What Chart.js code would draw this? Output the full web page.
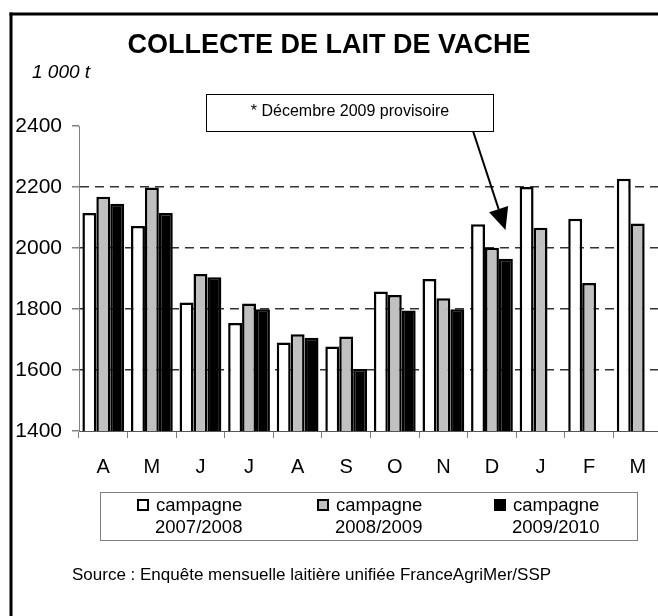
<!DOCTYPE html>
<html>
<head>
<meta charset="utf-8">
<script src="https://cdn.jsdelivr.net/npm/chart.js@4"></script>
<style>
    body { margin: 0; background: #fff; }
    .wrap { width: 658px; height: 616px; overflow: hidden; position: relative; background: #fff; }
    canvas { position: absolute; left: 0; top: 0; }
</style>
</head>
<body>
<div class="wrap">
    <canvas id="lait" width="672" height="616" style="width:672px;height:616px"></canvas>
</div>
<script>
const months = ['A', 'M', 'J', 'J', 'A', 'S', 'O', 'N', 'D', 'J', 'F', 'M'];
const campagne0708 = [2115, 2072, 1821, 1754, 1690, 1677, 1857, 1898, 2078, 2200, 2096, 2227];
const campagne0809 = [2168, 2198, 1915, 1818, 1717, 1710, 1846, 1835, 2001, 2066, 1885, 2080];
const campagne0910 = [2145, 2115, 1904, 1799, 1706, 1603, 1795, 1799, 1965, null, null, null];
const seriesNames = ['campagne 2007/2008', 'campagne 2008/2009', 'campagne 2009/2010'];
const seriesColors = ['#ffffff', '#c0c0c0', '#000000'];
const yTicks = [1400, 1600, 1800, 2000, 2200, 2400];

const FONT = "'Liberation Sans', Arial, sans-serif";

// texte, légende, cadre et flèche dessinés à la main
const decorPlugin = {
    id: 'decor',
    afterDraw(chart) {
        const ctx = chart.ctx;
        ctx.save();

        ctx.fillStyle = '#000';
        ctx.textBaseline = 'middle';
        ctx.textAlign = 'center';
        ctx.font = 'bold 27px ' + FONT;
        ctx.fillText('COLLECTE DE LAIT DE VACHE', 329, 46);

        ctx.textAlign = 'left';
        ctx.font = 'italic 19px ' + FONT;
        ctx.fillText('1 000 t', 32, 73);

        // encadré annotation
        ctx.fillStyle = '#fff';
        ctx.fillRect(206.5, 94.5, 287, 37);
        ctx.strokeStyle = '#000';
        ctx.lineWidth = 1;
        ctx.strokeRect(206.5, 94.5, 287, 37);
        ctx.fillStyle = '#000';
        ctx.textAlign = 'center';
        ctx.font = '16px ' + FONT;
        ctx.fillText('* Décembre 2009 provisoire', 350, 112);

        // flèche
        const x0 = 473, y0 = 131, x1 = 505.5, y1 = 230;
        const ang = Math.atan2(y1 - y0, x1 - x0);
        const headLen = 22, headW = 10;
        const bx = x1 - headLen * Math.cos(ang), by = y1 - headLen * Math.sin(ang);
        ctx.lineWidth = 2;
        ctx.beginPath();
        ctx.moveTo(x0, y0);
        ctx.lineTo(bx, by);
        ctx.stroke();
        ctx.beginPath();
        ctx.moveTo(x1, y1);
        ctx.lineTo(bx + headW * Math.sin(ang), by - headW * Math.cos(ang));
        ctx.lineTo(bx - headW * Math.sin(ang), by + headW * Math.cos(ang));
        ctx.closePath();
        ctx.fill();

        // légende
        ctx.strokeStyle = '#808080';
        ctx.lineWidth = 1;
        ctx.strokeRect(100.5, 492.5, 537, 48);
        const legendX = [137, 317, 494];
        ctx.font = '18.5px ' + FONT;
        ctx.textAlign = 'left';
        chart.data.datasets.forEach((ds, i) => {
            const mx = legendX[i];
            ctx.fillStyle = ds.backgroundColor;
            ctx.fillRect(mx, 499, 12, 12);
            ctx.strokeStyle = '#000';
            ctx.lineWidth = 2;
            ctx.strokeRect(mx + 1, 500, 10, 10);
            const parts = ds.label.split(' ');
            ctx.fillStyle = '#000';
            ctx.fillText(parts[0], mx + 19, 506);
            ctx.fillText(parts[1], mx + 18, 528);
        });

        ctx.font = '17px ' + FONT;
        ctx.fillText('Source : Enquête mensuelle laitière unifiée FranceAgriMer/SSP', 72, 575);

        // cadre
        ctx.fillStyle = '#000';
        ctx.fillRect(9.5, 12.5, 3, 616);
        ctx.fillRect(9.5, 12.5, 660, 3);

        ctx.restore();
    }
};

const ctx = document.getElementById('lait');
const myChart = new Chart(ctx, {
    type: 'bar',
    data: {
        labels: months,
        datasets: [campagne0708, campagne0809, campagne0910].map((values, i) => ({
            label: seriesNames[i],
            data: values,
            backgroundColor: seriesColors[i],
            borderColor: '#000',
            borderWidth: 2.5,
            borderSkipped: 'bottom',
            categoryPercentage: 0.86,
            barPercentage: 1
        }))
    },
    options: {
        responsive: false,
        animation: false,
        layout: { padding: { left: 0, right: 10, top: 126, bottom: 135 } },
        plugins: {
            legend: { display: false },
            title: { display: false },
            tooltip: { enabled: false }
        },
        scales: {
            x: {
                offset: true,
                afterFit: (scale) => { scale.height = 50; },
                grid: {
                    offset: true,
                    drawOnChartArea: false,
                    tickLength: 7,
                    color: '#808080'
                },
                border: { color: '#555', width: 1 },
                ticks: {
                    color: '#000',
                    padding: 17,
                    font: { family: FONT, size: 20 }
                }
            },
            y: {
                min: yTicks[0],
                max: yTicks[yTicks.length - 1],
                afterFit: (scale) => { scale.width = 79; },
                afterBuildTicks: (scale) => { scale.ticks = yTicks.map(v => ({ value: v })); },
                grid: {
                    tickLength: 7,
                    tickColor: '#808080',
                    color: (c) => (c.tick && (c.tick.value === 2400 || c.tick.value === 1400)) ? 'rgba(0,0,0,0)' : '#333',
                    lineWidth: 1.5
                },
                border: { color: '#808080', width: 1, dash: [9, 6] },
                ticks: {
                    color: '#000',
                    padding: 10,
                    font: { family: FONT, size: 21 },
                    callback: (v) => String(v)
                }
            }
        }
    },
    plugins: [decorPlugin]
});
</script>
</body>
</html>
